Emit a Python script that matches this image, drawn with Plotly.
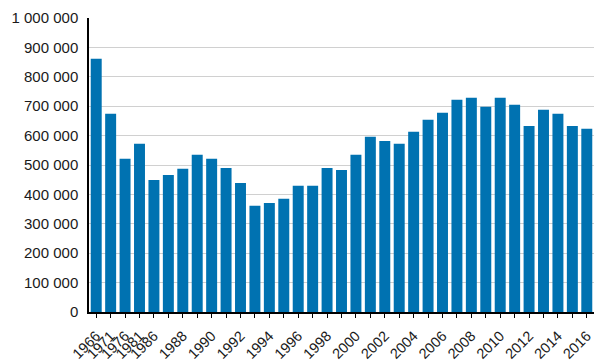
import plotly.graph_objects as go

years = ["1966", "1971", "1976", "1981", "1986"] + [str(y) for y in range(1987, 2017)]
values = [861000, 674000, 521000, 572000, 449000,
          466000, 487000, 535000, 521000, 490000, 439000, 361000, 371000, 385000, 429000,
          429000, 490000, 483000, 535000, 596000, 582000, 572000, 613000, 654000, 678000,
          722000, 729000, 698000, 729000, 705000, 633000, 688000, 674000, 633000, 623000]
labeled = ["1966", "1971", "1976", "1981", "1986"] + [str(y) for y in range(1988, 2017, 2)]
ytick_vals = list(range(0, 1000001, 100000))

fig = go.Figure(go.Bar(x=years, y=values, marker_color="#0072b1", marker_line_width=0))

fig.update_layout(
    width=614, height=363,
    margin=dict(l=89, r=20, t=18, b=51),
    plot_bgcolor="white", paper_bgcolor="white",
    bargap=0.24,
    separators=", ",
    showlegend=False,
    font=dict(family="Liberation Sans, Arial, sans-serif", size=15, color="#1a1a1a"),
)
fig.update_xaxes(
    type="category", automargin=False,
    tickmode="array", tickvals=years,
    ticktext=[y if y in labeled else "" for y in years],
    tickangle=-45, ticks="outside", ticklen=4, tickcolor="black",
    showline=True, linecolor="black", linewidth=1.5,
    showgrid=False, tickfont=dict(size=14.5), ticklabelstandoff=4,
)
fig.update_yaxes(
    automargin=False,
    range=[0, 1000000], tickmode="array", tickvals=ytick_vals,
    tickformat=",d",
    showline=True, linecolor="black", linewidth=1.5,
    showgrid=True, gridcolor="#d0d0d0", gridwidth=1,
    zeroline=False, ticks="", ticklabelstandoff=6,
)
fig.write_html("out.html", config={"displayModeBar": False},
               post_script="document.body.style.margin='0';document.body.style.overflow='hidden';")
